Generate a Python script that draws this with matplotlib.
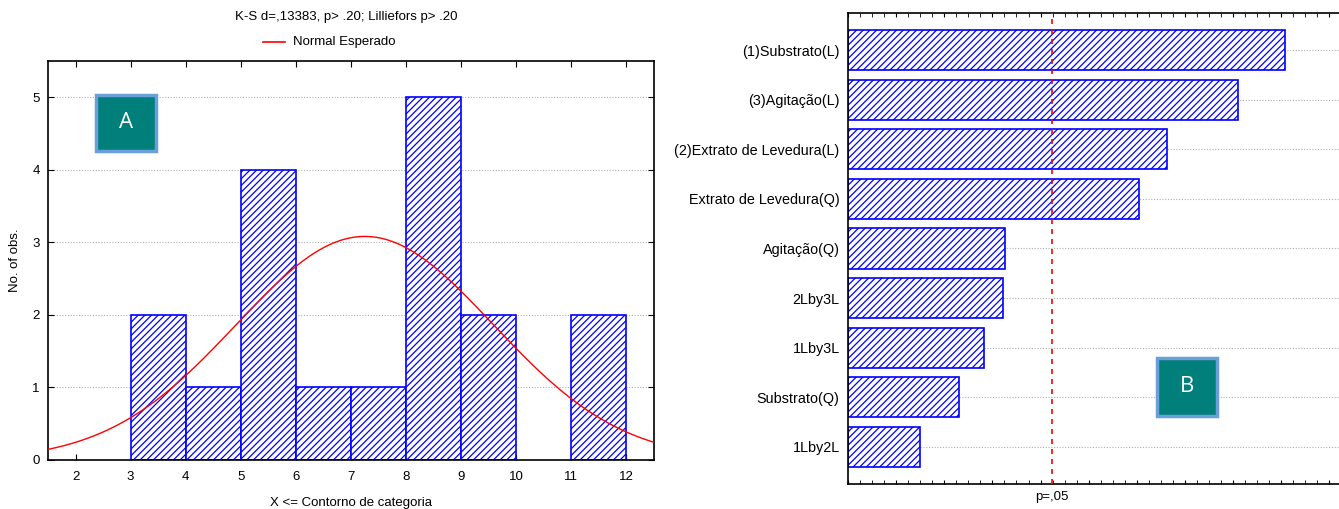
import matplotlib.pyplot as plt
import numpy as np
from matplotlib.patches import FancyBboxPatch
from matplotlib.ticker import MultipleLocator, NullFormatter
import matplotlib.transforms as mtransforms

plt.rcParams['font.family'] = ['Liberation Sans', 'DejaVu Sans']
plt.rcParams['hatch.linewidth'] = 0.9

# --- histogram (A) ---
bin_edges = [3, 4, 5, 6, 7, 8, 9, 10, 11, 12]
counts = [2, 1, 4, 1, 1, 5, 2, 0, 2]
# fitted normal (expected counts, bin width 1)
norm_n = 18
norm_mean = 7.25
norm_sd = 2.33

# --- pareto of effects (B) ---
effects = ['(1)Substrato(L)', '(3)Agitação(L)', '(2)Extrato de Levedura(L)',
           'Extrato de Levedura(Q)', 'Agitação(Q)', '2Lby3L', '1Lby3L',
           'Substrato(Q)', '1Lby2L']
effect_vals = [4.54, 4.05, 3.31, 3.02, 1.63, 1.61, 1.41, 1.15, 0.75]
p05 = 2.12

blue = '#0000FF'
teal = '#007F7B'
fs = 9.5

fig = plt.figure(figsize=(13.39, 5.09), dpi=100)

# left panel
ax1 = fig.add_axes([48/1339, 1-460/509, (654-48)/1339, (460-61)/509])
ax1.set_xlim(1.5, 12.5)
ax1.set_ylim(0, 5.5)
ax1.set_yticks(range(6))
ax1.set_xticks(range(2, 13))
ax1.grid(axis='y', color='#b0b0b0', linestyle=(0, (1, 1.5)), linewidth=0.8, zorder=0)
ax1.set_axisbelow(True)
for i, c in enumerate(counts):
    if c > 0:
        ax1.bar(bin_edges[i], c, width=bin_edges[i+1]-bin_edges[i], align='edge',
                facecolor='white', edgecolor=blue, hatch='/////', linewidth=1.2, zorder=2)
xs = np.linspace(1.5, 12.5, 300)
ys = norm_n / (norm_sd*np.sqrt(2*np.pi)) * np.exp(-0.5*((xs-norm_mean)/norm_sd)**2)
ax1.plot(xs, ys, color='red', linewidth=1.0, zorder=3)
ax1.tick_params(direction='in', top=True, right=True, length=4, labelsize=fs, pad=8)
ax1.tick_params(axis='y', pad=6)
for s in ax1.spines.values():
    s.set_linewidth(1.2)
ax1.set_ylabel('No. of obs.', fontsize=fs, labelpad=8)
ax1.set_xlabel('X <= Contorno de categoria', fontsize=fs, labelpad=10)
fig.text(346/1339, 1-17/509, 'K-S d=,13383, p> .20; Lilliefors p> .20',
         ha='center', va='center', fontsize=fs)
fig.add_artist(plt.Line2D([263/1339, 285/1339], [1-42/509, 1-42/509], color='red', linewidth=1.2))
fig.text(293/1339, 1-42/509, 'Normal Esperado', ha='left', va='center', fontsize=fs)

# right panel
ax2 = fig.add_axes([848/1339, 1-484/509, (1339-848)/1339, (484-13)/509])
ypos = np.arange(len(effects))
ax2.set_xlim(0, 5.1)
ax2.set_ylim(len(effects)-0.25, -0.75)
ax2.grid(axis='y', color='#b0b0b0', linestyle=(0, (1, 1.5)), linewidth=0.8, zorder=0)
ax2.set_axisbelow(True)
ax2.barh(ypos, effect_vals, height=0.81, facecolor='white', edgecolor=blue,
         hatch='/////', linewidth=1.2, zorder=2)
ax2.axvline(p05, color='red', linestyle=(0, (3, 3)), linewidth=1.2, zorder=3)
ax2.set_yticks(ypos)
ax2.set_yticklabels(effects, fontsize=10.4)
ax2.tick_params(axis='y', direction='in', length=2, pad=6)
ax2.xaxis.set_major_locator(MultipleLocator(0.5))
ax2.xaxis.set_minor_locator(MultipleLocator(0.125))
ax2.xaxis.set_major_formatter(NullFormatter())
ax2.tick_params(axis='x', which='both', direction='in', top=True, length=3)
ax2.spines['right'].set_visible(False)
for s in ['left', 'top', 'bottom']:
    ax2.spines[s].set_linewidth(1.2)
trans = mtransforms.blended_transform_factory(ax2.transData, fig.transFigure)
ax2.text(p05, 1-497/509, 'p=,05', transform=trans, ha='center', va='center', fontsize=fs)

# label boxes
def label_box(x0, y0, x1, y1, letter):
    w = (x1-x0)/1339
    h = (y1-y0)/509
    box = FancyBboxPatch((x0/1339, 1-y1/509), w, h, boxstyle='square,pad=0',
                         transform=fig.transFigure, facecolor=teal,
                         edgecolor='#6A9FD8', linewidth=2.5, zorder=10)
    fig.add_artist(box)
    fig.text((x0+x1)/2/1339, 1-(y0+y1)/2/509, letter, color='white', fontsize=16,
             ha='center', va='center', family='Open Sans', zorder=11)

label_box(96, 95, 156, 151, 'A')
label_box(1157, 358, 1217, 416, 'B')

fig.savefig('out.png', dpi=100)
